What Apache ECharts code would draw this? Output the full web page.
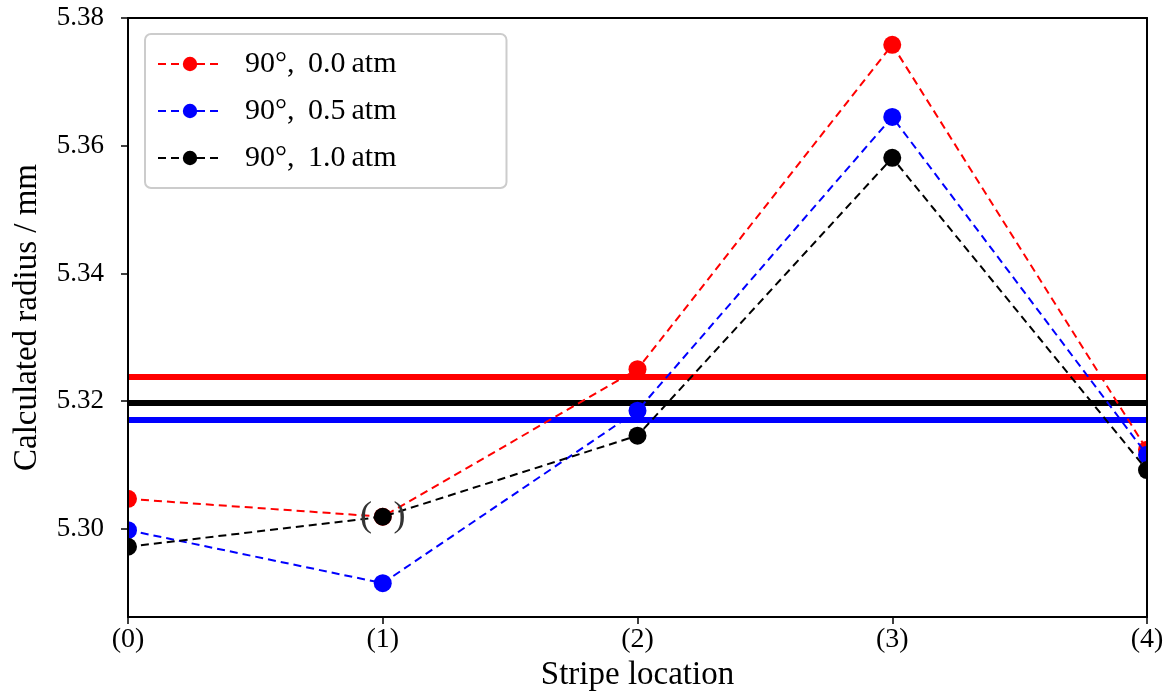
<!DOCTYPE html>
<html>
<head>
<meta charset="utf-8">
<script src="https://cdn.jsdelivr.net/npm/echarts@6/dist/echarts.min.js"></script>
<style>html,body{margin:0;padding:0;background:#fff}#c{width:1174px;height:699px}</style>
</head>
<body>
<div id="c"></div>
<script>
const categories = ['(0)', '(1)', '(2)', '(3)', '(4)'];
const seriesNames = ['90°,\u2009 0.0\u2009atm', '90°,\u2009 0.5\u2009atm', '90°,\u2009 1.0\u2009atm'];
const red = [5.3047, 5.3019, 5.3250, 5.3758, 5.3124];
const blue = [5.2998, 5.2915, 5.3185, 5.3645, 5.3116];
const black = [5.2972, 5.3019, 5.3146, 5.3581, 5.3092];
const means = [5.3239, 5.3171, 5.3197];
const yTicks = [5.30, 5.32, 5.34, 5.36, 5.38];
const yMin = 5.2862, yMax = 5.38;

const FONT = 'Liberation Serif';
const colors = ['#ff0000', '#0000ff', '#000000'];
const datas = [red, blue, black];

const chart = echarts.init(document.getElementById('c'));
const series = datas.map((d, i) => ({
  name: seriesNames[i],
  type: 'line',
  data: d.map((v, j) => {
    if (i === 2 && j === 1) {
      return { value: v, label: { show: true, position: 'inside', formatter: '(\u2009\u2009\u2009)', fontFamily: FONT, fontSize: 36, color: '#333' } };
    }
    return v;
  }),
  symbol: 'circle',
  symbolSize: 18,
  z: 3 + i,
  itemStyle: { color: colors[i] },
  lineStyle: { color: colors[i], width: 2, type: [8, 5] },
  clip: false,
  markLine: {
    silent: true,
    symbol: 'none',
    precision: 5,
    label: { show: false },
    lineStyle: { color: colors[i], width: 6, type: 'solid' },
    data: [{ yAxis: means[i] }],
    z: 2
  }
}));

chart.setOption({
  animation: false,
  backgroundColor: '#fff',
  grid: { left: 128, right: 27, top: 18, bottom: 82 },
  legend: {
    left: 145, top: 34,
    orient: 'vertical',
    data: seriesNames,
    itemWidth: 64, itemHeight: 18, itemGap: 17,
    padding: [15, 110, 15, 12],
    borderColor: '#cccccc', borderWidth: 2, borderRadius: 6,
    backgroundColor: '#fff',
    textStyle: { fontFamily: FONT, fontSize: 30, color: '#000', padding: [0, 0, 0, 18] }
  },
  graphic: [
    { type: 'rect', z: 50, shape: { x: 106, y: 18, width: 21, height: 599 }, style: { fill: '#fff' } },
    { type: 'rect', z: 50, shape: { x: 1148, y: 18, width: 26, height: 599 }, style: { fill: '#fff' } }
  ],
  xAxis: [{
    type: 'category', data: categories, boundaryGap: false, z: 100,
    name: 'Stripe location', nameLocation: 'middle', nameGap: 39,
    nameTextStyle: { fontFamily: FONT, fontSize: 33, color: '#000' },
    axisLine: { lineStyle: { color: '#000', width: 2 } },
    axisTick: { length: 7, lineStyle: { color: '#000', width: 1.5 } },
    axisLabel: { fontFamily: FONT, fontSize: 28, color: '#000', margin: 9 },
    splitLine: { show: false }
  }, {
    type: 'category', data: categories, boundaryGap: false, position: 'top', z: 100,
    axisLine: { lineStyle: { color: '#000', width: 2 } },
    axisTick: { show: false }, axisLabel: { show: false }, splitLine: { show: false }
  }],
  yAxis: [{
    type: 'value', min: yMin, max: yMax, z: 100,
    name: 'Calculated radius / mm', nameLocation: 'middle', nameGap: 84,
    nameTextStyle: { fontFamily: FONT, fontSize: 33, color: '#000' },
    axisLine: { show: true, lineStyle: { color: '#000', width: 2 } },
    axisTick: { show: true, length: 7, lineStyle: { color: '#000', width: 1.5 }, customValues: yTicks },
    axisLabel: { fontFamily: FONT, fontSize: 27, color: '#000', margin: 24, customValues: yTicks, formatter: v => v.toFixed(2) },
    splitLine: { show: false }
  }, {
    type: 'value', min: yMin, max: yMax, position: 'right', z: 100,
    axisLine: { show: true, lineStyle: { color: '#000', width: 2 } },
    axisTick: { show: false }, axisLabel: { show: false }, splitLine: { show: false }
  }],
  series: series
});
</script>
</body>
</html>
